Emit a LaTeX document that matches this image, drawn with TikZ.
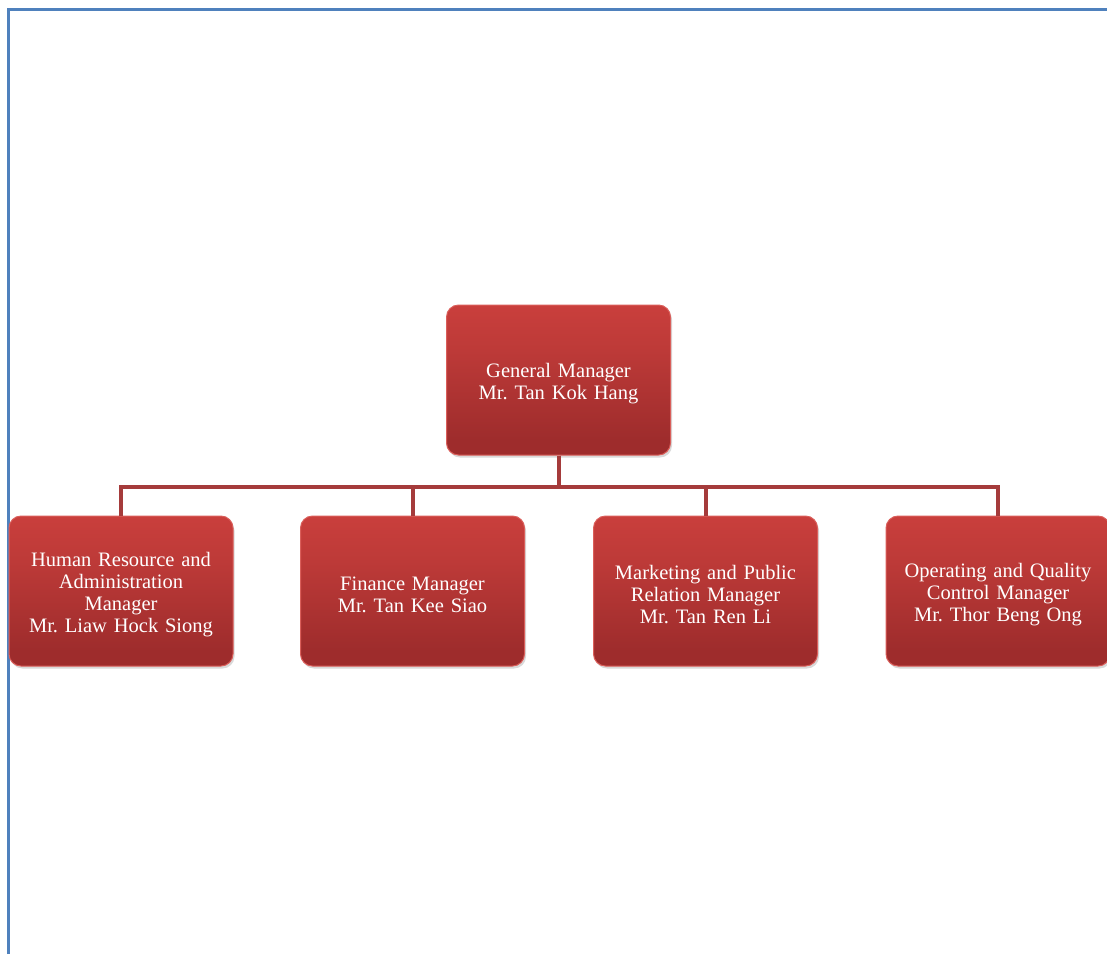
\documentclass[tikz,border=0pt]{standalone}
\usepackage{fontspec}
\setmainfont{Liberation Serif}
\usetikzlibrary{shadows}

\definecolor{frameblue}{HTML}{4F81BD}
\definecolor{linkred}{HTML}{A53B3B}
\definecolor{boxedge}{HTML}{DA5E5A}
\definecolor{botred}{HTML}{9E2C2C}
\definecolor{midred}{HTML}{BD3A38}
\definecolor{topred}{HTML}{CF413E}
\definecolor{glossred}{HTML}{DC5A56}
\pgfdeclareverticalshading{boxshade}{100bp}{
  color(0bp)=(botred);
  color(20bp)=(botred);
  color(50bp)=(midred);
  color(72bp)=(topred);
  color(75bp)=(glossred);
  color(77bp)=(topred);
  color(80bp)=(topred)}

\tikzset{
  mgrbox/.style={rounded corners=12pt, shading=boxshade, draw=boxedge, line width=1pt,
    minimum width=224pt, minimum height=150pt, text width=214pt, align=center,
    text=white, font=\fontsize{20.5}{22}\selectfont,
    execute at begin node={\rule{0pt}{22pt}},
    drop shadow={shadow xshift=1.5pt, shadow yshift=-2.5pt, opacity=0.3}},
  link/.style={linkred, line width=4pt}
}

\begin{document}
\frenchspacing
\begin{tikzpicture}[x=1pt,y=-1pt]
	\useasboundingbox (0,0) rectangle (1107,954);

	% page frame
	\draw [frameblue, line width=3pt] (8.5,954) -- (8.5,9.5) -- (1107,9.5);

	% general manager
	\node [mgrbox] (gm) at (558.5, 380) {General Manager\\Mr. Tan Kok Hang};

	% department managers
	\node [mgrbox] (hr) at (121, 591) {Human Resource and\\Administration\\Manager\\Mr. Liaw Hock Siong};
	\node [mgrbox] (fin) at (412.5, 591) {Finance Manager\\Mr. Tan Kee Siao};
	\node [mgrbox] (mkt) at (705.5, 591) {Marketing and Public\\Relation Manager\\Mr. Tan Ren Li};
	\node [mgrbox] (opq) at (998, 591) {Operating and Quality\\Control Manager\\Mr. Thor Beng Ong};

	% reporting lines
	\draw [link] (gm.south) -- ++(0,31) -| (hr.north);
	\draw [link] (gm.south) -- ++(0,31) -| (fin.north);
	\draw [link] (gm.south) -- ++(0,31) -| (mkt.north);
	\draw [link] (gm.south) -- ++(0,31) -| (opq.north);
\end{tikzpicture}
\end{document}
